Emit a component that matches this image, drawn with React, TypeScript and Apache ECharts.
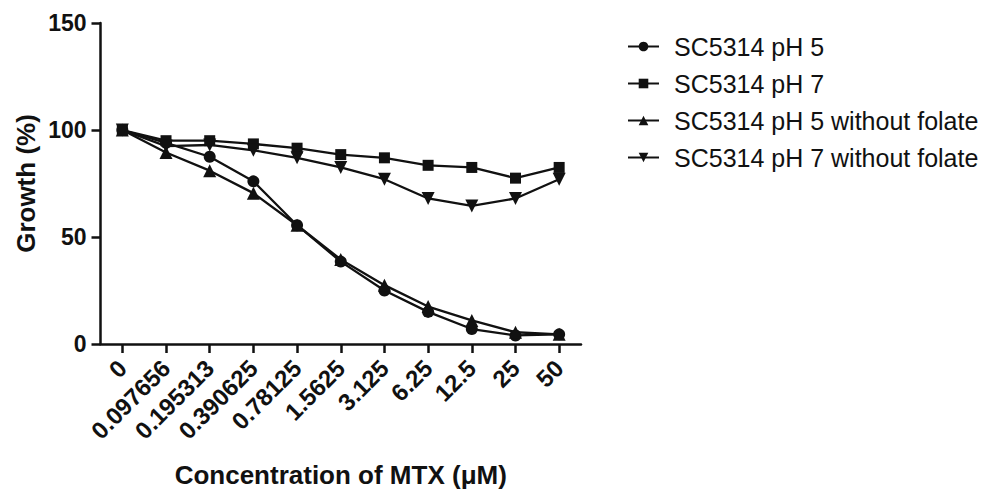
import React, { useEffect, useRef } from "react";
import * as echarts from "echarts";

const concentrations = ["0", "0.097656", "0.195313", "0.390625", "0.78125", "1.5625", "3.125", "6.25", "12.5", "25", "50"];
const seriesNames = ["SC5314 pH 5", "SC5314 pH 7", "SC5314 pH 5 without folate", "SC5314 pH 7 without folate"];
const ph5 = [100, 94, 87.5, 76, 55.5, 38.5, 25, 15, 7, 4, 4.5];
const ph7 = [100, 95, 95, 93.5, 91.5, 88.5, 87, 83.5, 82.5, 77.5, 82.5];
const ph5NoFolate = [100, 89.5, 81, 70.5, 55.5, 39.5, 27.5, 17.5, 11, 5.5, 4.5];
const ph7NoFolate = [100, 92.5, 93, 90.5, 87, 82.5, 77, 68, 64.5, 68, 77];
const yTicks = [0, 50, 100, 150];

const FONT = "'Liberation Sans', Arial, Helvetica, sans-serif";
const INK = "#111";

export default function App() {
  const ref = useRef<HTMLDivElement>(null);
  useEffect(() => {
    if (!ref.current) return;
    const chart = echarts.init(ref.current, null, { renderer: "svg" });
    const mk = (name: string, data: number[], symbol: string, size: number, rotate = 0) => ({
      name,
      type: "line",
      data,
      symbol,
      symbolSize: size,
      symbolRotate: rotate,
      lineStyle: { color: INK, width: 2.3 },
      itemStyle: { color: INK },
      z: 3,
    });
    chart.setOption({
      animation: false,
      backgroundColor: "#fff",
      textStyle: { fontFamily: FONT },
      grid: { left: 100.5, right: 410, top: 23, bottom: 147, containLabel: false, outerBoundsMode: "none" },
      legend: {
        orient: "vertical",
        left: 622,
        top: 29,
        itemWidth: 31,
        itemHeight: 12,
        itemGap: 12,
        data: seriesNames,
        textStyle: { fontFamily: FONT, fontSize: 25, color: INK, padding: [0, 0, 0, 10] },
      },
      xAxis: {
        type: "category",
        data: concentrations,
        boundaryGap: true,
        name: "Concentration of MTX (μM)",
        nameLocation: "middle",
        nameGap: 118,
        nameTextStyle: { fontFamily: FONT, fontSize: 26, fontWeight: "bold", color: INK },
        axisLine: { lineStyle: { color: INK, width: 2.5 } },
        axisTick: { show: true, alignWithLabel: true, interval: 0, length: 9, lineStyle: { color: INK, width: 2.5 } },
        axisLabel: {
          rotate: 45,
          interval: 0,
          hideOverlap: false,
          fontSize: 24,
          fontWeight: "bold",
          color: INK,
          margin: 20,
          padding: [10, 0, 0, 0],
          fontFamily: FONT,
        },
        splitLine: { show: false },
      },
      yAxis: {
        type: "value",
        min: yTicks[0],
        max: yTicks[yTicks.length - 1],
        interval: 50,
        name: "Growth (%)",
        nameLocation: "middle",
        nameRotate: 90,
        nameGap: 62,
        nameTextStyle: { fontFamily: FONT, fontSize: 26, fontWeight: "bold", color: INK },
        axisLine: { show: true, lineStyle: { color: INK, width: 2.5 } },
        axisTick: { show: true, length: 9, lineStyle: { color: INK, width: 2.5 } },
        axisLabel: { fontSize: 23, fontWeight: "bold", color: INK, margin: 14, fontFamily: FONT },
        splitLine: { show: false },
      },
      series: [
        mk(seriesNames[0], ph5, "circle", 12),
        mk(seriesNames[1], ph7, "rect", 11),
        mk(seriesNames[2], ph5NoFolate, "triangle", 13),
        mk(seriesNames[3], ph7NoFolate, "triangle", 13, 180),
      ],
    });
    return () => chart.dispose();
  }, []);
  return <div ref={ref} style={{ position: "fixed", left: 0, top: 0, width: 991, height: 491 }} />;
}
